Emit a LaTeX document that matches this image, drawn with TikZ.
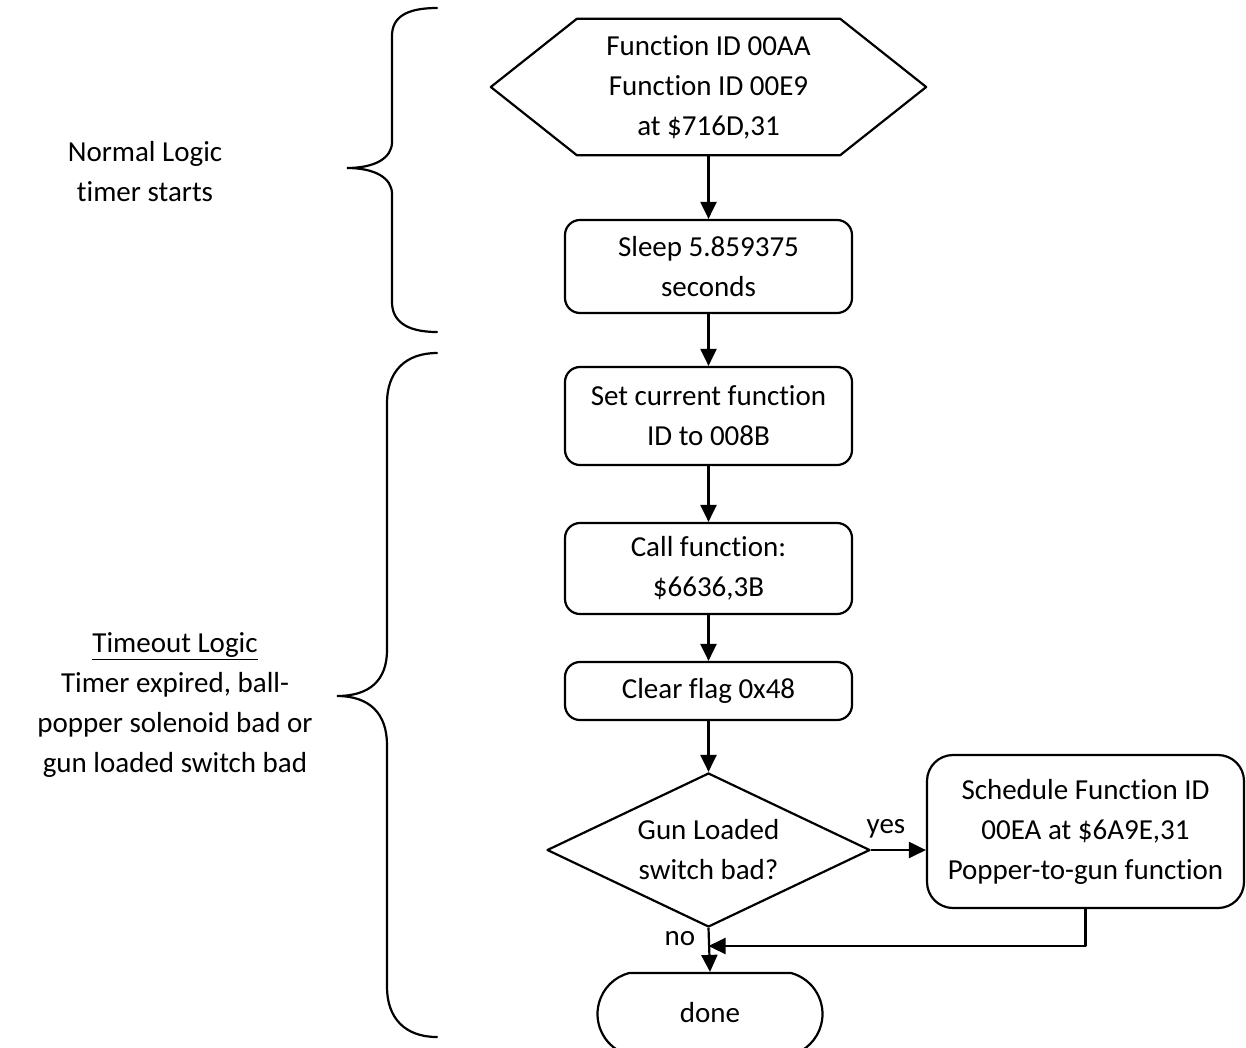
\documentclass[tikz,border=0pt]{standalone}
\usepackage{fontspec}
\setmainfont{Carlito}[Ligatures=NoCommon]
\usetikzlibrary{arrows.meta,shapes.geometric,shapes.misc}
\begin{document}
\begin{tikzpicture}[x=1pt,y=-1pt,
  every node/.style={font=\fontsize{29}{40}\selectfont, align=center, inner sep=0pt},
  line/.style={line width=2.2pt, line join=round},
  flow/.style={line, -{Triangle[length=17pt,width=16pt]}},
  procbox/.style={line, draw, rectangle, rounded corners=15pt},
  decision/.style={line, draw, diamond, shape aspect=2.1},
  terminal/.style={line, draw, rounded rectangle, rounded rectangle arc length=150},
  bracepath/.style={line width=2.2pt, line cap=round}
]
\useasboundingbox (0,0) rectangle (1246,1047);

% entry hexagon
\node (hex) [minimum width=435pt, minimum height=136pt] at (708.5,87)
  {Function ID 00AA\\Function ID 00E9\\at \$716D,31};
\draw[line] (hex.west) -- ([xshift=86pt]hex.north west) -- ([xshift=-86pt]hex.north east)
  -- (hex.east) -- ([xshift=-86pt]hex.south east) -- ([xshift=86pt]hex.south west) -- cycle;

% process steps
\node (sleep) [procbox, minimum width=287pt, minimum height=93pt] at (708.5,266.5)
  {Sleep 5.859375\\seconds};
\node (setfn) [procbox, minimum width=287pt, minimum height=98pt] at (708.5,416)
  {Set current function\\ID to 008B};
\node (call) [procbox, minimum width=287pt, minimum height=91pt] at (708.5,568.5)
  {Call function:\\\$6636,3B};
\node (clear) [procbox, minimum width=287pt, minimum height=58pt] at (708.5,691)
  {Clear flag 0x48};
\node (test) [decision, minimum width=323pt, minimum height=154pt] at (708.5,850)
  {Gun Loaded\\switch bad?};
\node (sched) [procbox, rounded corners=26pt, minimum width=317pt, minimum height=153pt] at (1085.5,831.5)
  {Schedule Function ID\\00EA at \$6A9E,31\\Popper-to-gun function};
\node (done) [terminal, minimum width=225pt, minimum height=82pt] at (710,1014) {\raisebox{3pt}{done}};

\coordinate (merge) at (test.south |- 0,946);

% connectors
\draw[flow] (hex.south) -- (sleep.north);
\draw[flow] (sleep.south) -- (setfn.north);
\draw[flow] (setfn.south) -- (call.north);
\draw[flow] (call.south) -- (clear.north);
\draw[flow] (clear.south) -- (test.north);
\draw[flow] (test.east) -- (test.east -| sched.west);
\draw[flow] (test.south) -- (done.north);
\draw[flow] (sched.south) |- (merge);
\node (yes) at (886,829) {yes};
\node (no) at (680,939) {no};

% braces and their captions
\draw[bracepath] (437,8) .. controls (405,8) and (392,18) .. (392,36)
  -- (392,142) .. controls (392,158) and (375,168) .. (347,168)
  .. controls (375,168) and (392,178) .. (392,194)
  -- (392,302) .. controls (392,320) and (405,332) .. (437,332);
\node (normal) at (145,172) {Normal Logic\\timer starts};

\draw[bracepath] (437,353) .. controls (405,353) and (387,372) .. (387,403)
  -- (387,650) .. controls (387,680) and (370,696) .. (337,696)
  .. controls (370,696) and (387,714) .. (387,745)
  -- (387,987) .. controls (387,1018) and (405,1037) .. (437,1037);
\node (timeout) at (175,705)
  {\underline{Timeout Logic}\\Timer expired, ball-\\popper solenoid bad or\\gun loaded switch bad};
\end{tikzpicture}
\end{document}
